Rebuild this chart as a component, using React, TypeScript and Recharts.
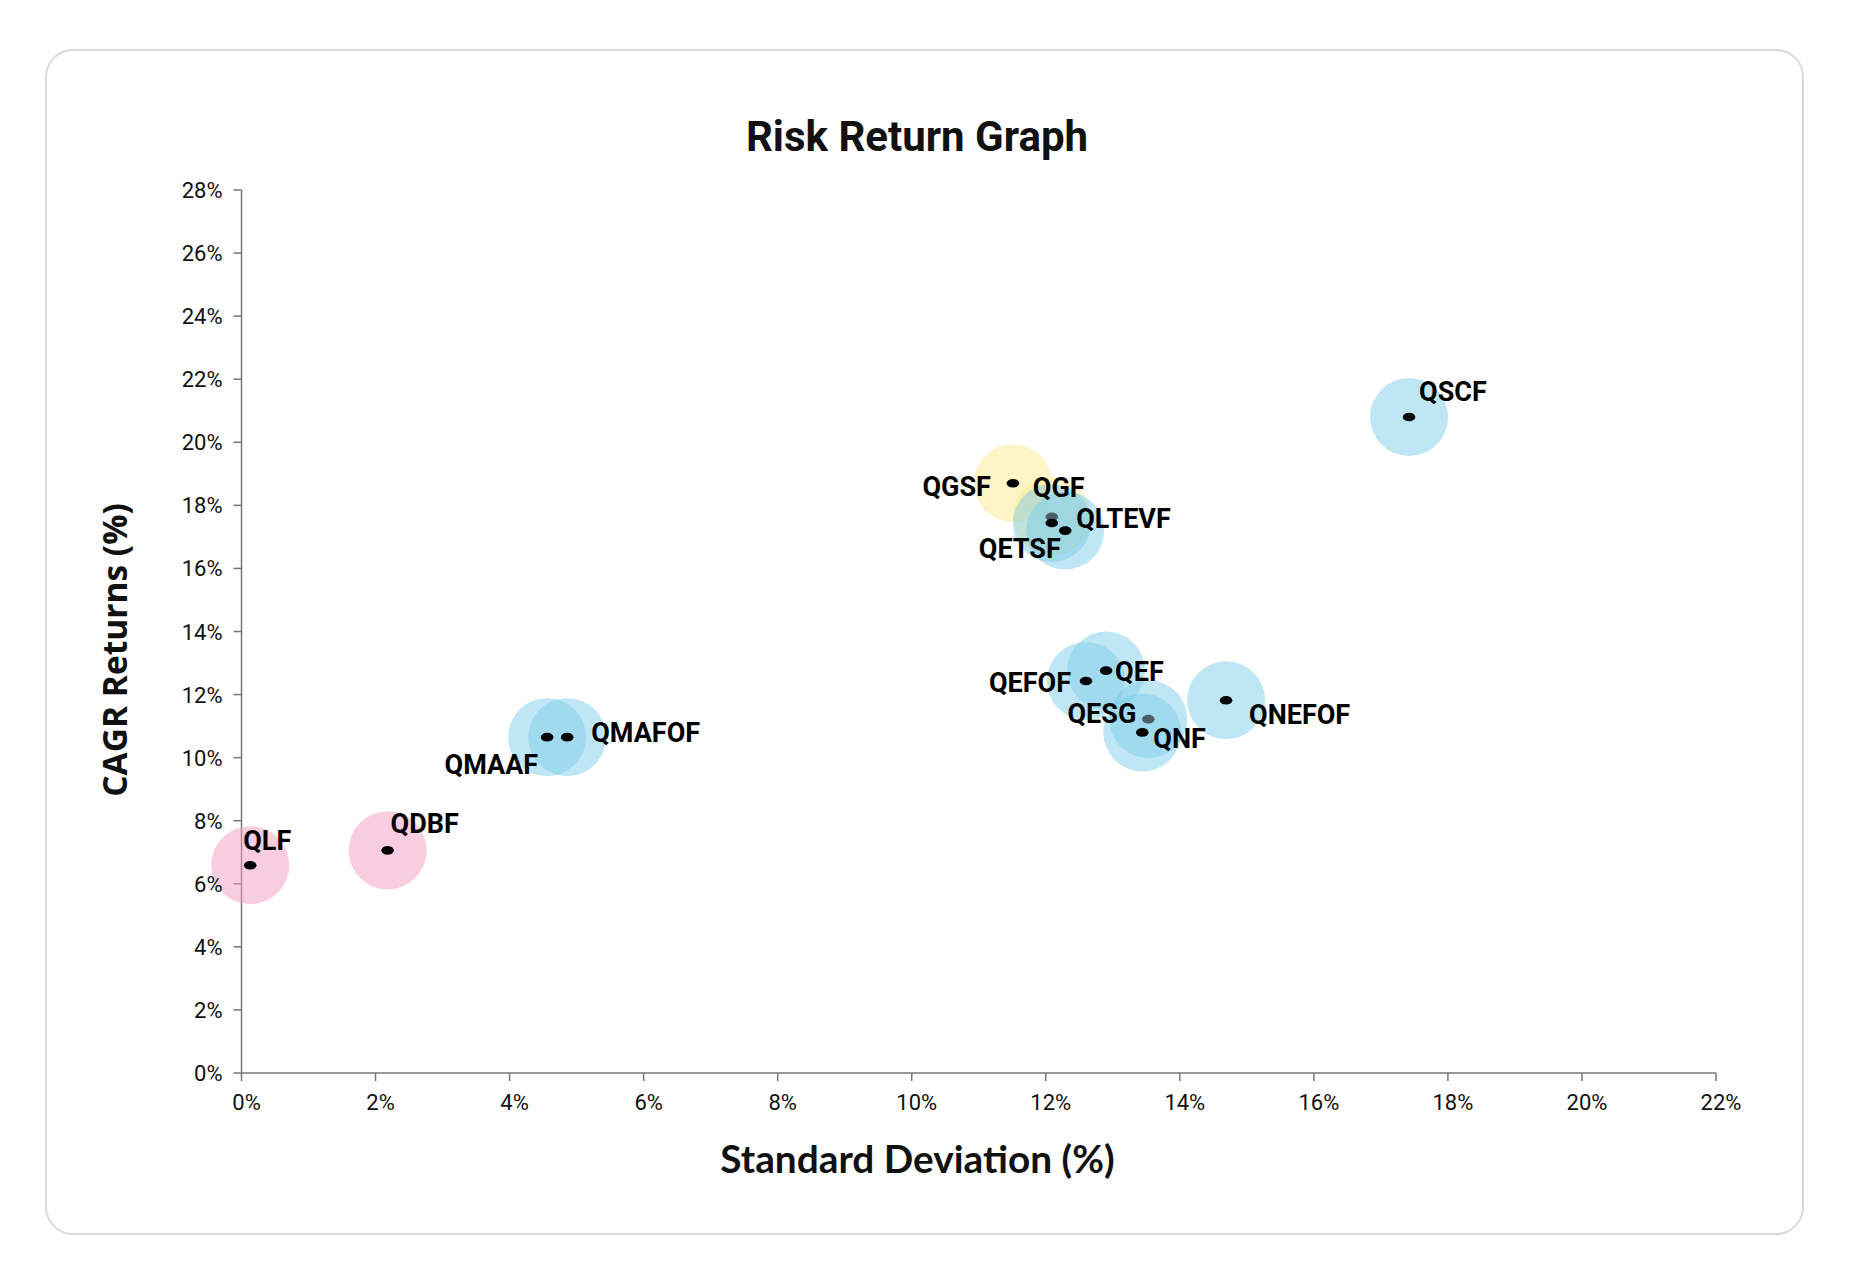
import React from 'react';
import { ScatterChart, Scatter, XAxis, YAxis } from 'recharts';

// fund, risk (std dev %) and return (CAGR %)
const funds = [
  'QLF',
  'QDBF',
  'QMAFOF',
  'QMAAF',
  'QGSF',
  'QGF',
  'QLTEVF',
  'QETSF',
  'QSCF',
  'QEF',
  'QEFOF',
  'QESG',
  'QNF',
  'QNEFOF',
];
const stdDev = [0.13, 2.18, 4.86, 4.56, 11.51, 12.09, 12.29, 12.09, 17.42, 12.9, 12.6, 13.53, 13.44, 14.69];
const cagr = [6.59, 7.06, 10.65, 10.65, 18.7, 17.64, 17.2, 17.44, 20.8, 12.76, 12.43, 11.22, 10.8, 11.82];
const fundType = [
  'debt',
  'debt',
  'equity',
  'equity',
  'gold',
  'gold',
  'equity',
  'equity',
  'equity',
  'equity',
  'equity',
  'equity',
  'equity',
  'equity',
];

const xTicks = [0, 2, 4, 6, 8, 10, 12, 14, 16, 18, 20, 22];
const yTicks = [0, 2, 4, 6, 8, 10, 12, 14, 16, 18, 20, 22, 24, 26, 28];

const typeColors: Record<string, string> = {
  debt: '#f29cc2',
  gold: '#fbe991',
  equity: '#7fcdea',
};
const typeOrder = ['debt', 'gold', 'equity'];

// dots that sit under another bubble look greyed out
const mutedDots = ['QGF', 'QESG'];

// label offsets from the point, like hand-placed excel data labels
const labelPos: Record<string, { dx: number; dy: number; anchor: string }> = {
  QLF: { dx: -7, dy: -15, anchor: 'start' },
  QDBF: { dx: 3, dy: -17, anchor: 'start' },
  QMAAF: { dx: -9, dy: 37, anchor: 'end' },
  QMAFOF: { dx: 24, dy: 5, anchor: 'start' },
  QGSF: { dx: -22, dy: 13, anchor: 'end' },
  QGF: { dx: -19, dy: -20, anchor: 'start' },
  QETSF: { dx: 9, dy: 35, anchor: 'end' },
  QLTEVF: { dx: 11, dy: -3, anchor: 'start' },
  QSCF: { dx: 10, dy: -16, anchor: 'start' },
  QEFOF: { dx: -15, dy: 11, anchor: 'end' },
  QEF: { dx: 9, dy: 10, anchor: 'start' },
  QESG: { dx: -12, dy: 4, anchor: 'end' },
  QNF: { dx: 11, dy: 16, anchor: 'start' },
  QNEFOF: { dx: 23, dy: 24, anchor: 'start' },
};

const points = funds.map((name, i) => ({
  name,
  x: stdDev[i],
  y: cagr[i],
  type: fundType[i],
}));

const XTick = (props: any) => {
  const { x, y, payload } = props;
  return (
    <text x={x + 5} y={y + 29} textAnchor="middle" fontFamily="Roboto" fontSize={22} fill="#111">
      {payload.value}%
    </text>
  );
};

const YTick = (props: any) => {
  const { x, y, payload } = props;
  return (
    <text x={x - 11} y={y + 8} textAnchor="end" fontFamily="Roboto" fontSize={22} fill="#111">
      {payload.value}%
    </text>
  );
};

const Bubble = (color: string) => (props: any) => {
  const { cx, cy } = props;
  return <circle cx={cx} cy={cy} r={39} fill={color} fillOpacity={0.5} />;
};

const DotWithLabel = (props: any) => {
  const { cx, cy, payload } = props;
  const pos = labelPos[payload.name];
  return (
    <g>
      <ellipse
        cx={cx}
        cy={cy}
        rx={6.3}
        ry={4.3}
        fill={mutedDots.includes(payload.name) ? '#4d5f66' : '#000'}
      />
      <text
        x={cx + pos.dx}
        y={cy + pos.dy}
        textAnchor={pos.anchor}
        fontFamily="Roboto"
        fontWeight={700}
        fontSize={27}
        fill="#000"
      >
        {payload.name}
      </text>
    </g>
  );
};

export default function App() {
  const W = 1759;
  const H = 1186;
  return (
    <div>
      <div
        style={{
          position: 'absolute',
          left: 45,
          top: 49,
          width: W,
          height: H,
          border: '2px solid #d9d9d9',
          borderRadius: 28,
          boxSizing: 'border-box',
          background: '#fff',
        }}
      />
      <div style={{ position: 'absolute', left: 45, top: 49, width: W, height: H }}>
        <ScatterChart width={W} height={H} margin={{ top: 141, right: 88, left: 0, bottom: 0 }}>
          <XAxis
            type="number"
            dataKey="x"
            domain={[0, 22]}
            ticks={xTicks}
            interval={0}
            height={162}
            tickSize={8}
            tickMargin={0}
            tick={XTick}
            axisLine={{ stroke: '#777', strokeWidth: 1.5 }}
            tickLine={{ stroke: '#777', strokeWidth: 1.5 }}
          />
          <YAxis
            type="number"
            dataKey="y"
            domain={[0, 28]}
            ticks={yTicks}
            interval={0}
            width={196.5}
            tickSize={8}
            tickMargin={0}
            tick={YTick}
            axisLine={{ stroke: '#777', strokeWidth: 1.5 }}
            tickLine={{ stroke: '#777', strokeWidth: 1.5 }}
          />
          {typeOrder.map((t) => (
            <Scatter
              key={t}
              data={points.filter((p) => p.type === t)}
              shape={Bubble(typeColors[t])}
              isAnimationActive={false}
            />
          ))}
          <Scatter data={points} shape={DotWithLabel} isAnimationActive={false} />
        </ScatterChart>
        <svg
          width={W}
          height={H}
          style={{ position: 'absolute', left: 0, top: 0, pointerEvents: 'none' }}
        >
          <text x={872} y={102} textAnchor="middle" fontFamily="Roboto" fontWeight={700} fontSize={42} fill="#111">
            Risk Return Graph
          </text>
          <text x={872.5} y={1124} textAnchor="middle" fontFamily="Lato" fontWeight={700} fontSize={38.8} fill="#111">
            Standard Deviation (%)
          </text>
          <text
            x={82}
            y={601}
            transform="rotate(-90 82 601)"
            textAnchor="middle"
            fontFamily="Open Sans"
            fontWeight={700}
            fontSize={33.5}
            fill="#111"
          >
            CAGR Returns (%)
          </text>
        </svg>
      </div>
    </div>
  );
}
